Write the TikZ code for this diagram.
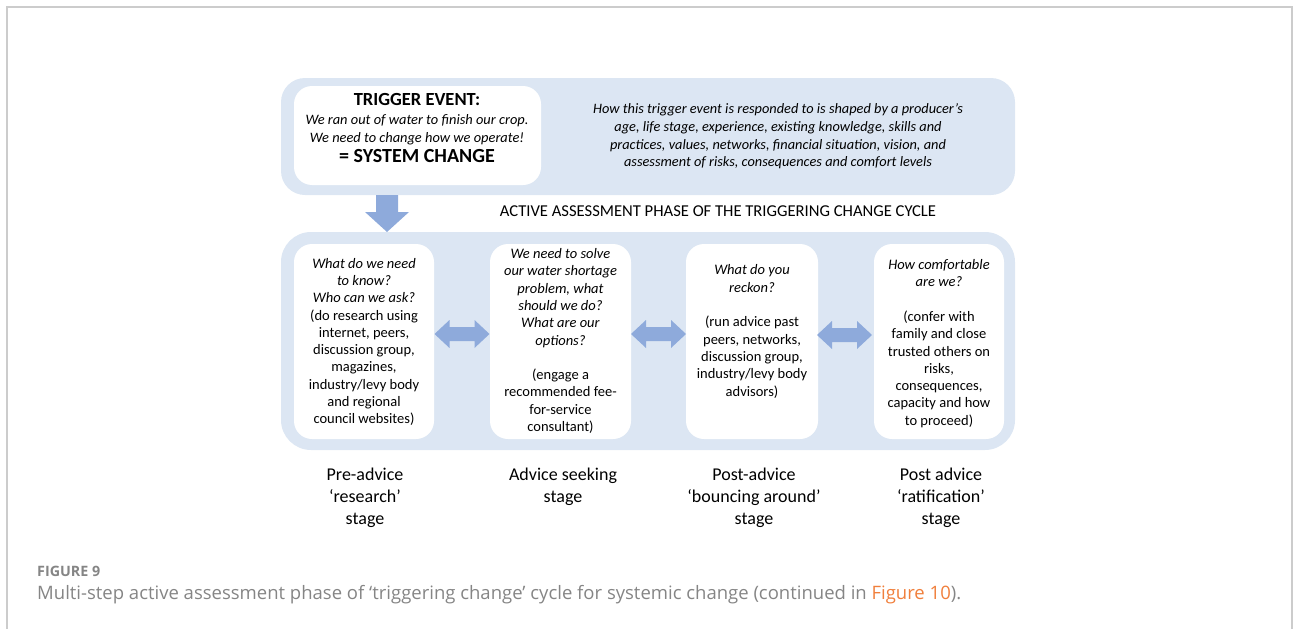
\documentclass[tikz,border=0pt]{standalone}
\usepackage{fontspec}
\setmainfont{Carlito}
\newfontfamily\capfont{Open Sans}
\usetikzlibrary{calc}
\definecolor{bandblue}{HTML}{DCE6F3}
\definecolor{arrowblue}{HTML}{8EAADB}
\definecolor{framegray}{HTML}{CCCCCC}
\definecolor{captiongray}{HTML}{858585}
\definecolor{linkorange}{HTML}{F07F3C}
\tikzset{
  band/.style={fill=bandblue, draw=none, rounded corners=24pt, inner sep=0pt},
  card/.style={fill=white, draw=none, rounded corners=18pt, inner sep=0pt},
  cardtext/.style={inner sep=0pt, align=center, font=\fontsize{14.5}{17.3}\selectfont},
  plain/.style={inner sep=0pt, align=center, font=\fontsize{14.35}{17.7}\selectfont},
  headline/.style={inner sep=0pt, font=\fontsize{18.5}{20}\selectfont\bfseries},
  stagelabel/.style={inner sep=0pt, align=center, font=\fontsize{18}{22}\selectfont},
  pics/dblarrow/.style={code={
    \fill[arrowblue] (-27.5,0) -- (-12.5,-14) -- (-12.5,-7) -- (12.5,-7) -- (12.5,-14)
      -- (27.5,0) -- (12.5,14) -- (12.5,7) -- (-12.5,7) -- (-12.5,14) -- cycle;}},
  pics/downarrow/.style={code={
    \fill[arrowblue] (-11,0) -- (11,0) -- (11,17) -- (22,17) -- (0,37)
      -- (-22,17) -- (-11,17) -- cycle;}}
}
\begin{document}
\begin{tikzpicture}[x=1pt,y=-1pt]
\useasboundingbox (0,0) rectangle (1293,629);
% page frame
\draw[framegray, line width=1.5pt] (7,629) -- (7,7) -- (1292,7) -- (1292,629);

% upper band with the trigger event
\node[band, minimum width=734pt, minimum height=117pt] (topband) at (648,136.5) {};
\node[card, minimum width=247pt, minimum height=99pt] (trigbox) at (417.5,135.5) {};
\node[headline] (trigtitle) at (417,99) {TRIGGER EVENT:};
\node[plain, font=\fontsize{14.4}{18}\selectfont\itshape] (trigtext) at (417,129.5)
  {We ran out of water to finish our crop.\\We need to change how we operate!};
\node[headline, font=\fontsize{20}{22}\selectfont\bfseries] (trigresult) at (417,156) {= SYSTEM CHANGE};
\node[plain, font=\fontsize{14.35}{17.7}\selectfont\itshape] (shaping) at (778,136.5)
  {How this trigger event is responded to is shaped by a producer’s\\
   age, life stage, experience, existing knowledge, skills and\\
   practices, values, networks, financial situation, vision, and\\
   assessment of risks, consequences and comfort levels};

% phase heading and arrow into the lower band
\node[plain, font=\fontsize{16.6}{18}\selectfont] (phase) at (718,211)
  {ACTIVE ASSESSMENT PHASE OF THE TRIGGERING CHANGE CYCLE};
\coordinate (downtop) at (387,195);
\pic at (downtop) {downarrow};

% lower band with the four stages
\node[band, minimum width=734pt, minimum height=218pt, rounded corners=30pt] (lowband) at (648,341) {};
\node[card, minimum width=140pt, minimum height=195pt] (s1) at (364,341.5) {};
\node[card, minimum width=141pt, minimum height=195pt] (s2) at (560.5,341.5) {};
\node[card, minimum width=132pt, minimum height=195pt] (s3) at (752,341.5) {};
\node[card, minimum width=130pt, minimum height=195pt] (s4) at (939,341.5) {};

\node[cardtext] (t1) at ($(s1.center)+(0,0.5)$)
  {\textit{What do we need}\\\textit{to know?}\\\textit{Who can we ask?}\\
   (do research using\\internet, peers,\\discussion group,\\magazines,\\
   industry/levy body\\and regional\\council websites)};
\node[cardtext] (t2) at ($(s2.center)+(0,-0.5)$)
  {\textit{We need to solve}\\\textit{our water shortage}\\\textit{problem, what}\\
   \textit{should we do?}\\\textit{What are our}\\\textit{options?}\\\mbox{}\\
   (engage a\\recommended fee-\\for-service\\consultant)};
\node[cardtext] (t3) at ($(s3.center)+(0,-10)$)
  {\textit{What do you}\\\textit{reckon?}\\\mbox{}\\
   (run advice past\\peers, networks,\\discussion group,\\industry/levy body\\advisors)};
\node[cardtext] (t4) at ($(s4.center)+(0,2)$)
  {\textit{How comfortable}\\\textit{are we?}\\\mbox{}\\
   (confer with\\family and close\\trusted others on\\risks,\\consequences,\\
   capacity and how\\to proceed)};

% two-way arrows between neighbouring stages
\pic at ($(s1.east)!0.5!(s2.west)+(0,-7.5)$) {dblarrow};
\pic at ($(s2.east)!0.5!(s3.west)+(0,-7.5)$) {dblarrow};
\pic at ($(s3.east)!0.5!(s4.west)+(-1.5,-6.5)$) {dblarrow};

% stage names
\node[stagelabel] (l1) at (365,498) {Pre-advice\\‘research’\\stage};
\node[stagelabel] (l2) at (563,487) {Advice seeking\\stage};
\node[stagelabel] (l3) at (754,498) {Post-advice\\‘bouncing around’\\stage};
\node[stagelabel] (l4) at (941,498) {Post advice\\‘ratification’\\stage};

% caption
\node[anchor=west, inner sep=0pt, text=captiongray, font=\capfont\fontsize{14.3}{18}\selectfont\bfseries]
  (figno) at (37,571) {FIGURE 9};
\node[anchor=west, inner sep=0pt, text=captiongray, font=\capfont\fontsize{18.5}{21}\selectfont]
  (caption) at (37,595)
  {Multi-step active assessment phase of ‘triggering change’ cycle for systemic change (continued in \textcolor{linkorange}{Figure 10}).};
\end{tikzpicture}
\end{document}
